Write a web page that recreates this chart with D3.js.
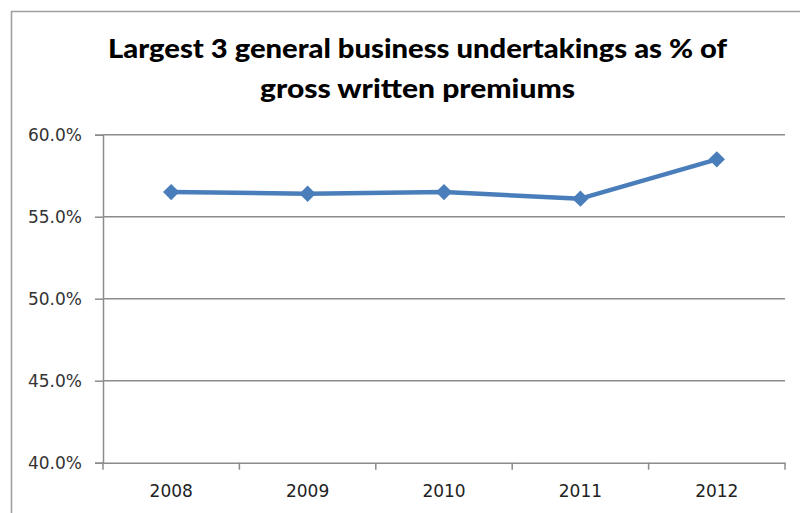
<!DOCTYPE html>
<html>
<head>
<meta charset="utf-8">
<script src="https://cdn.jsdelivr.net/npm/d3@7"></script>
<style>
  html, body { margin: 0; padding: 0; background: #fff; }
  svg { display: block; }
</style>
</head>
<body>
<svg id="chart" width="800" height="513"></svg>
<script>
const categories = ["2008", "2009", "2010", "2011", "2012"];
const values = [56.5, 56.4, 56.5, 56.1, 58.5];
const yTicks = [40, 45, 50, 55, 60];
const titleLines = ["Largest 3 general business undertakings as % of", "gross written premiums"];

(function () {
const svg = d3.select("#chart");
const W = 800, H = 513;

// outer chart border
svg.append("path")
  .attr("d", `M11.5,${H + 2} L11.5,11.5 L${W + 2},11.5`)
  .attr("fill", "none").attr("stroke", "#a0a0a0").attr("stroke-width", 1.6);

// title
const title = svg.append("g").attr("font-family", "Lato, 'Open Sans', sans-serif")
  .attr("font-weight", "900").attr("font-size", 27).attr("fill", "#000");
title.append("text").attr("x", 417.5).attr("y", 58).attr("text-anchor", "middle")
  .attr("textLength", 619).attr("lengthAdjust", "spacingAndGlyphs").text(titleLines[0]);
title.append("text").attr("x", 417.5).attr("y", 98).attr("text-anchor", "middle")
  .attr("textLength", 315).attr("lengthAdjust", "spacingAndGlyphs").text(titleLines[1]);

const pL = 103, pR = 785, pT = 134.7, pB = 462.7;
const x = d3.scaleBand().domain(categories).range([pL, pR]);
const y = d3.scaleLinear().domain([40, 60]).range([pB, pT]);

// gridlines
svg.append("g").selectAll("line").data(yTicks.filter(d => d !== 40)).join("line")
  .attr("x1", pL).attr("x2", pR)
  .attr("y1", d => y(d)).attr("y2", d => y(d))
  .attr("stroke", "#8c8c8c").attr("stroke-width", 1.5);

// y axis
const yAxis = svg.append("g").attr("transform", `translate(${pL},0)`)
  .call(d3.axisLeft(y).tickValues(yTicks).tickSize(8).tickPadding(13)
    .tickFormat(d => d3.format(".1f")(d) + "%"));
yAxis.select(".domain").attr("stroke", "#8c8c8c").attr("stroke-width", 1.5);
yAxis.selectAll(".tick line").attr("stroke", "#8c8c8c").attr("stroke-width", 1.5);
yAxis.selectAll(".tick text").attr("font-family", "'DejaVu Sans', Verdana, sans-serif")
  .attr("font-size", 17).attr("fill", "#333");

// x axis
const xAxis = svg.append("g").attr("transform", `translate(0,${pB})`)
  .call(d3.axisBottom(x).tickSize(0).tickPadding(22));
xAxis.select(".domain").attr("stroke", "#8c8c8c").attr("stroke-width", 1.5);
xAxis.selectAll(".tick text").attr("font-family", "'DejaVu Sans', Verdana, sans-serif")
  .attr("font-size", 17).attr("fill", "#222");
// category boundary ticks
const bounds = categories.map(c => x(c)).concat([x(categories[categories.length - 1]) + x.bandwidth()]);
svg.append("g").selectAll("line").data(bounds).join("line")
  .attr("x1", d => d).attr("x2", d => d)
  .attr("y1", pB).attr("y2", pB + 7)
  .attr("stroke", "#8c8c8c").attr("stroke-width", 1.5);

// line series
const cx = c => x(c) + x.bandwidth() / 2;
const data = categories.map((c, i) => ({ c, v: values[i] }));
svg.append("path").datum(data)
  .attr("d", d3.line().x(d => cx(d.c)).y(d => y(d.v)))
  .attr("fill", "none").attr("stroke", "#4a7ebb").attr("stroke-width", 4.5)
  .attr("stroke-linejoin", "round");

svg.append("g").selectAll("path").data(data).join("path")
  .attr("transform", d => `translate(${cx(d.c)},${y(d.v)})`)
  .attr("d", d3.symbol().type(d3.symbolDiamond2).size(170))
  .attr("fill", "#4a7ebb");
})();
</script>
</body>
</html>
